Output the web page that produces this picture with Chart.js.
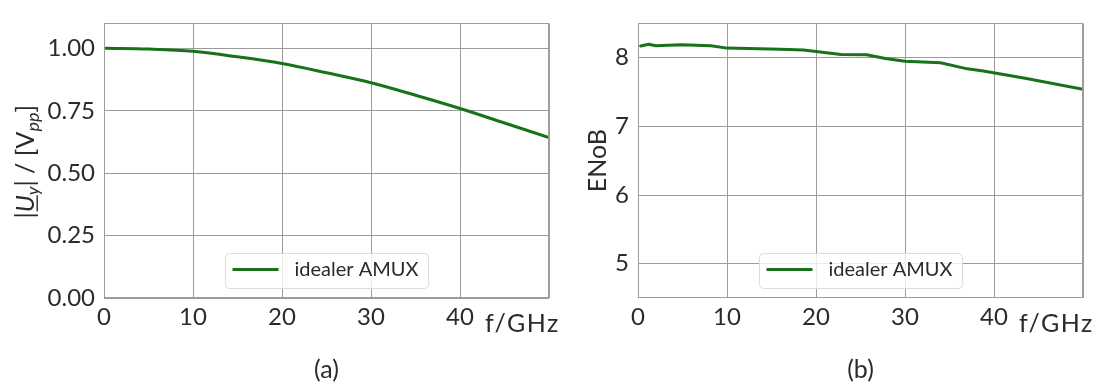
<!DOCTYPE html>
<html><head><meta charset="utf-8">
<script src="https://cdn.jsdelivr.net/npm/chart.js@4"></script>
<style>
html,body{margin:0;padding:0;background:#fff;}
#wrap{position:relative;width:1094px;height:385px;overflow:hidden;}
#ca{position:absolute;left:0;top:0;}
#cb{position:absolute;left:560px;top:0;}
</style></head><body>
<div id="wrap"><canvas id="ca" width="560" height="385"></canvas><canvas id="cb" width="534" height="385"></canvas></div>
<script>
// ---- data ----
const freqA = [0.25, 5, 10, 15, 20, 25, 30, 35, 40, 45, 50];
const ampA  = [1.000, 0.997, 0.988, 0.966, 0.939, 0.902, 0.862, 0.812, 0.759, 0.701, 0.643];
const freqB = [0.3, 1.2, 2.0, 4.8, 8.2, 10.0, 16.0, 18.6, 22.8, 25.7, 27.8, 30.0, 34.0, 37.0, 38.8, 43.5, 50.0];
const enobB = [8.172, 8.196, 8.174, 8.188, 8.173, 8.140, 8.122, 8.114, 8.048, 8.043, 7.988, 7.950, 7.926, 7.838, 7.808, 7.700, 7.542];
const xTicks  = [0, 10, 20, 30, 40, 50];
const yTicksA = [0, 0.25, 0.5, 0.75, 1.0];
const yTicksB = [5, 6, 7, 8];
const seriesLabel = 'idealer AMUX';
const xUnitLabel = 'f/GHz';
const captionA = '(a)', captionB = '(b)';
const yTitleB = 'ENoB';

// ---- style ----
const FAM = 'Lato, "Open Sans", sans-serif';
const W = '400';
const FS = 24;
const TEXT = '#2b2b2b';
const GRID = '#9c9c9c';
const GREEN = '#177219';

const frame = {
  id: 'frame',
  afterDraw(chart) {
    const {ctx, chartArea: a} = chart;
    ctx.save();
    ctx.strokeStyle = GRID; ctx.lineWidth = 1;
    ctx.strokeRect(Math.round(a.left) + 0.5, Math.round(a.top) + 0.5, Math.round(a.right - a.left) - 1, Math.round(a.bottom - a.top) - 1);
    ctx.restore();
  }
};
const legendInside = {
  id: 'legendInside',
  afterDraw(chart) {
    const {ctx, chartArea: a} = chart;
    const ds = chart.data.datasets[0];
    ctx.save();
    ctx.font = `${W} 20px ${FAM}`;
    const tw = ctx.measureText(ds.label).width;
    const w = 7 + 46 + 16 + tw + 10, h = 35;
    const x0 = Math.round((a.left + a.right) / 2 - w / 2) + 0.5;
    const y0 = Math.round(a.bottom - 10.5 - h) + 0.5;
    ctx.beginPath(); ctx.roundRect(x0, y0, w, h, 4);
    ctx.fillStyle = 'rgba(255,255,255,0.8)'; ctx.fill();
    ctx.strokeStyle = '#dcdcdc'; ctx.lineWidth = 1; ctx.stroke();
    const ly = y0 + h / 2 - 1.5;
    ctx.beginPath(); ctx.moveTo(x0 + 7, ly); ctx.lineTo(x0 + 53, ly);
    ctx.strokeStyle = ds.borderColor; ctx.lineWidth = 3; ctx.stroke();
    ctx.fillStyle = TEXT; ctx.textBaseline = 'middle'; ctx.textAlign = 'left';
    ctx.fillText(ds.label, x0 + 69, ly);
    ctx.restore();
  }
};
const unitLabel = {
  id: 'unitLabel',
  afterDraw(chart) {
    const {ctx, chartArea: a} = chart;
    ctx.save();
    ctx.font = `${W} 25px ${FAM}`;
    try { ctx.letterSpacing = '1.5px'; } catch (e) {}
    ctx.fillStyle = TEXT; ctx.textAlign = 'left'; ctx.textBaseline = 'alphabetic';
    ctx.fillText(xUnitLabel, a.right - 64, 332);
    ctx.restore();
  }
};
const richYTitle = {
  id: 'richYTitle',
  afterDraw(chart) {
    const {ctx, chartArea: a} = chart;
    const big = `${W} 25px ${FAM}`, bigI = `italic ${W} 25px ${FAM}`, smI = `italic ${W} 18px ${FAM}`;
    const parts = [
      {t: '|', f: big, dy: 0},
      {t: 'U', f: bigI, dy: 0, ul: true},
      {t: 'y', f: smI, dy: 5},
      {t: '|', f: big, dy: 0},
      {t: ' / [V', f: big, dy: 0},
      {t: 'pp', f: smI, dy: 5},
      {t: ']', f: big, dy: 0}
    ];
    ctx.save();
    let total = 0;
    parts.forEach(p => { ctx.font = p.f; p.w = ctx.measureText(p.t).width; total += p.w; });
    ctx.translate(25, (a.top + a.bottom) / 2 + 1);
    ctx.rotate(-Math.PI / 2);
    ctx.fillStyle = TEXT; ctx.textBaseline = 'alphabetic'; ctx.textAlign = 'left';
    let x = -total / 2;
    const base = 9;
    parts.forEach(p => {
      ctx.font = p.f;
      ctx.fillText(p.t, x, base + p.dy);
      if (p.ul) ctx.fillRect(x + 1, base + 2.5, p.w - 1, 1.4);
      x += p.w;
    });
    ctx.restore();
  }
};

function makeChart(id, xs, ys, yMin, yMax, yTicks, fmt, caption, yTitle, yWidth, tension, plugins) {
  return new Chart(document.getElementById(id), {
    type: 'line',
    data: {
      datasets: [{
        label: seriesLabel,
        data: xs.map((x, i) => ({x, y: ys[i]})),
        borderColor: GREEN, backgroundColor: GREEN,
        borderWidth: 3, pointRadius: 0, tension: tension,
        borderCapStyle: 'round', borderJoinStyle: 'round'
      }]
    },
    options: {
      responsive: false, animation: false, devicePixelRatio: 1,
      layout: {padding: {top: 13, right: 11, left: 0, bottom: 0}},
      plugins: {legend: {display: false}, tooltip: {enabled: false}},
      scales: {
        x: {
          type: 'linear', min: 0, max: 50,
          afterBuildTicks: s => { s.ticks = xTicks.map(v => ({value: v})); },
          afterFit: s => { s.height = 87; },
          grid: {color: GRID, lineWidth: 1, drawTicks: false},
          border: {display: false},
          ticks: {
            padding: 5, color: TEXT, maxRotation: 0, autoSkip: false,
            font: {family: FAM, size: FS, weight: W},
            callback: v => (v === 50 ? '' : String(v))
          },
          title: {display: true, text: caption, color: TEXT, padding: {top: 0, bottom: 0},
                  font: {family: FAM, size: 25, weight: W}}
        },
        y: {
          type: 'linear', min: yMin, max: yMax,
          afterBuildTicks: s => { s.ticks = yTicks.map(v => ({value: v})); },
          afterFit: s => { s.width = yWidth; },
          grid: {color: GRID, lineWidth: 1, drawTicks: false},
          border: {display: false},
          ticks: {padding: 9, color: TEXT, font: {family: FAM, size: FS, weight: W}, callback: fmt},
          title: {display: !!yTitle, text: yTitle || '', color: TEXT, padding: {top: 23, bottom: 0},
                  font: {family: FAM, size: 25, weight: W}}
        }
      }
    },
    plugins: plugins
  });
}

makeChart('ca', freqA, ampA, 0, 1.1, yTicksA, v => Number(v).toFixed(2), captionA, null, 104, 0.35,
  [frame, legendInside, unitLabel, richYTitle]);
makeChart('cb', freqB, enobB, 4.5, 8.5, yTicksB, v => String(v), captionB, yTitleB, 78, 0,
  [frame, legendInside, unitLabel]);
</script>
</body></html>
